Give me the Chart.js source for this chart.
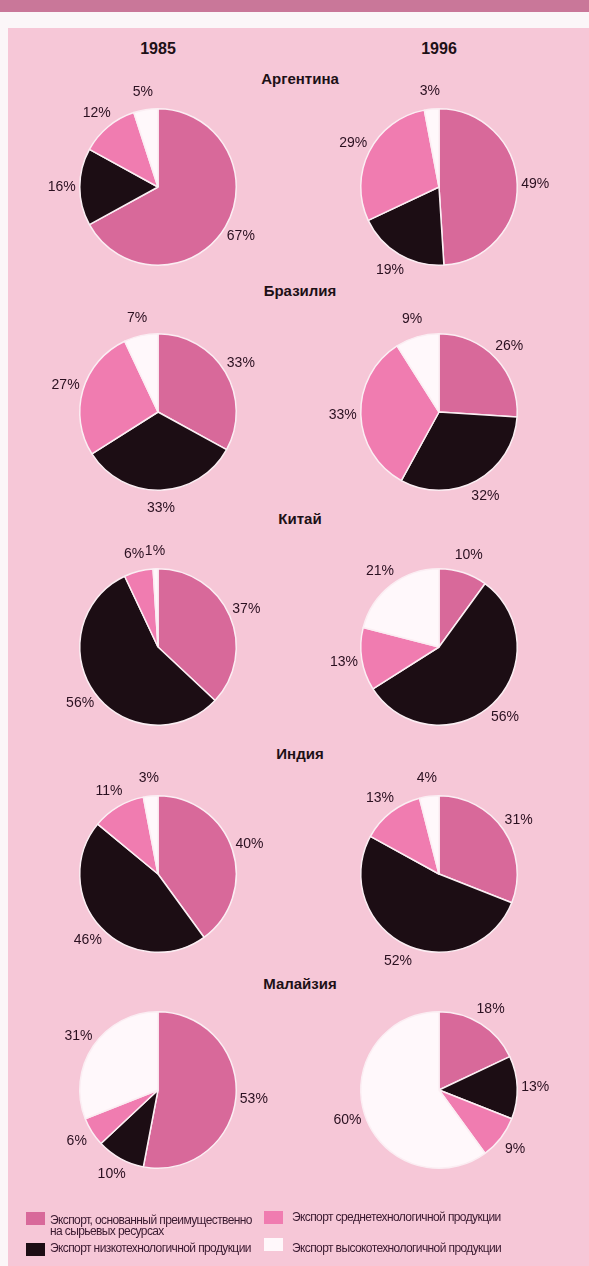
<!DOCTYPE html>
<html>
<head>
<meta charset="utf-8">
<script src="https://cdn.jsdelivr.net/npm/chart.js@4.4.1/dist/chart.umd.min.js"></script>
<style>
    html, body { margin: 0; padding: 0; }
    body { width: 589px; height: 1266px; position: relative; overflow: hidden; background: #fbf6f8; font-family: "Liberation Sans", Arial, sans-serif; }
    #band { position: absolute; left: 0; top: 0; width: 589px; height: 12px; background: #c97799; }
    #panel { position: absolute; left: 8px; top: 28px; width: 581px; height: 1238px; background: #f6c7d7; }
    .yr { position: absolute; top: 40px; width: 100px; margin-left: -50px; text-align: center; font-weight: bold; font-size: 16px; color: #1d1016; }
    .ctry { position: absolute; width: 200px; left: 200px; text-align: center; font-weight: bold; font-size: 15px; color: #1d1016; }
    .pie { position: absolute; width: 260px; height: 230px; }
    .sw { position: absolute; width: 19px; height: 13px; }
    .lt { position: absolute; font-size: 12px; line-height: 11px; color: #3a1a30; letter-spacing: -0.6px; white-space: nowrap; }
</style>
</head>
<body>
<div id="band"></div>
<div id="panel"></div>
<div id="root"></div>
<script>
const years = ['1985', '1996'];
const countries = ['Аргентина', 'Бразилия', 'Китай', 'Индия', 'Малайзия'];
const categories = [
    'Экспорт, основанный преимущественно на сырьевых ресурсах',
    'Экспорт низкотехнологичной продукции',
    'Экспорт среднетехнологичной продукции',
    'Экспорт высокотехнологичной продукции'
];
// order: raw, low-tech, medium-tech, high-tech
const share1985 = [
    [67, 16, 12, 5],
    [33, 33, 27, 7],
    [37, 56, 6, 1],
    [40, 46, 11, 3],
    [53, 10, 6, 31]
];
const share1996 = [
    [49, 19, 29, 3],
    [26, 32, 33, 9],
    [10, 56, 13, 21],
    [31, 52, 13, 4],
    [18, 13, 9, 60]
];

const colors = ['#d8699a', '#1c0d14', '#f07cb0', '#fff8fb'];
const colX = [158, 439];
const rowY = [187, 412, 647, 874, 1090];
const titleY = [70, 282, 510, 745, 975];

const root = document.getElementById('root');

years.forEach((y, i) => {
    let d = document.createElement('div');
    d.className = 'yr';
    d.style.left = colX[i] + 'px';
    d.textContent = y;
    root.appendChild(d);
});
countries.forEach((c, i) => {
    let d = document.createElement('div');
    d.className = 'ctry';
    d.style.top = titleY[i] + 'px';
    d.textContent = c;
    root.appendChild(d);
});

// percent labels outside each slice
const outLabels = {
    id: 'outLabels',
    afterDatasetsDraw(chart) {
        const ctx = chart.ctx;
        const meta = chart.getDatasetMeta(0);
        const data = chart.data.datasets[0].data;
        ctx.save();
        ctx.font = '14px "Liberation Sans", Arial, sans-serif';
        ctx.fillStyle = '#2a1020';
        ctx.textAlign = 'center';
        ctx.textBaseline = 'middle';
        meta.data.forEach((arc, i) => {
            const mid = (arc.startAngle + arc.endAngle) / 2;
            const r = arc.outerRadius + 18;
            ctx.fillText(data[i] + '%', arc.x + Math.cos(mid) * r, arc.y + Math.sin(mid) * r);
        });
        ctx.restore();
    }
};

function makePie(values, cx, cy) {
    let box = document.createElement('div');
    box.className = 'pie';
    box.style.left = (cx - 130) + 'px';
    box.style.top = (cy - 115) + 'px';
    let cv = document.createElement('canvas');
    box.appendChild(cv);
    root.appendChild(box);
    new Chart(cv, {
        type: 'pie',
        data: {
            labels: categories,
            datasets: [{
                data: values,
                backgroundColor: colors,
                borderColor: '#fbeef3',
                borderWidth: 1.5
            }]
        },
        options: {
            responsive: true,
            maintainAspectRatio: false,
            animation: false,
            layout: { padding: { left: 51, right: 51, top: 36, bottom: 36 } },
            plugins: {
                legend: { display: false },
                tooltip: { enabled: false }
            }
        },
        plugins: [outLabels]
    });
}

countries.forEach((c, i) => {
    makePie(share1985[i], colX[0], rowY[i]);
    makePie(share1996[i], colX[1], rowY[i]);
});

// legend
const legendItems = [
    { sw: [26, 1212], tx: [50, 1215], lines: ['Экспорт, основанный преимущественно', 'на сырьевых ресурсах'] },
    { sw: [26, 1243], tx: [50, 1243], lines: ['Экспорт низкотехнологичной продукции'] },
    { sw: [264, 1211], tx: [292, 1212], lines: ['Экспорт среднетехнологичной продукции'] },
    { sw: [264, 1238], tx: [292, 1243], lines: ['Экспорт высокотехнологичной продукции'] }
];
legendItems.forEach((it, i) => {
    let s = document.createElement('div');
    s.className = 'sw';
    s.style.left = it.sw[0] + 'px';
    s.style.top = it.sw[1] + 'px';
    s.style.background = colors[i];
    root.appendChild(s);
    let t = document.createElement('div');
    t.className = 'lt';
    t.style.left = it.tx[0] + 'px';
    t.style.top = it.tx[1] + 'px';
    t.innerHTML = it.lines.join('<br>');
    root.appendChild(t);
});
</script>
</body>
</html>
